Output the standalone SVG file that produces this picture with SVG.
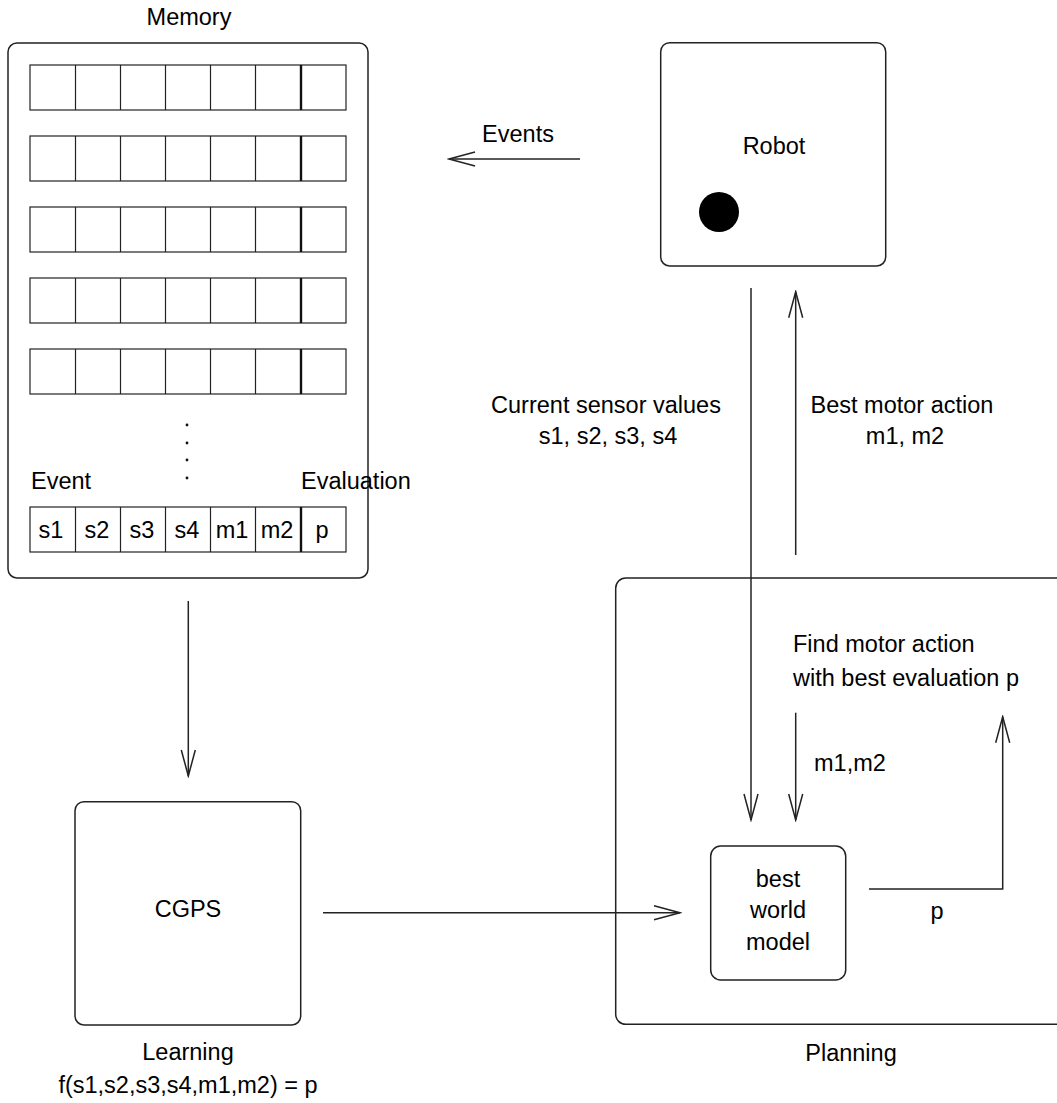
<svg xmlns="http://www.w3.org/2000/svg" width="1057" height="1103" viewBox="0 0 1057 1103">
<style>
  text { font-family: "Liberation Sans", Arial, sans-serif; font-size: 23.5px; fill: #000; }
  .c { text-anchor: middle; }
  .box { fill: none; stroke: #222; stroke-width: 1.5; }
  .cell { fill: none; stroke: #222; stroke-width: 1.2; }
  .div { stroke: #111; stroke-width: 2.4; }
  .conn { fill: none; stroke: #222; stroke-width: 1.5; marker-end: url(#arr); }
</style>
<defs>
  <marker id="arr" markerUnits="userSpaceOnUse" markerWidth="30" markerHeight="20" viewBox="-28 -9 30 18" refX="0" refY="0" orient="auto">
    <path d="M -26 -7 L 0 0 L -26 7" fill="none" stroke="#222" stroke-width="1.5"/>
  </marker>
  <g id="row">
    <rect class="cell" x="30" y="0" width="316" height="45"/>
    <line class="cell" x1="75.5" y1="0" x2="75.5" y2="45"/>
    <line class="cell" x1="120.5" y1="0" x2="120.5" y2="45"/>
    <line class="cell" x1="165.5" y1="0" x2="165.5" y2="45"/>
    <line class="cell" x1="210.5" y1="0" x2="210.5" y2="45"/>
    <line class="cell" x1="255.5" y1="0" x2="255.5" y2="45"/>
    <line class="div" x1="301" y1="0" x2="301" y2="45"/>
  </g>
</defs>

<g id="memory">
  <text class="c" x="189" y="25">Memory</text>
  <rect class="box" x="8" y="43" width="360" height="535" rx="9"/>
  <use href="#row" y="65"/>
  <use href="#row" y="136"/>
  <use href="#row" y="207"/>
  <use href="#row" y="278"/>
  <use href="#row" y="349"/>
  <circle cx="187" cy="425" r="1.4" fill="#111"/>
  <circle cx="187" cy="443" r="1.4" fill="#111"/>
  <circle cx="187" cy="460" r="1.4" fill="#111"/>
  <circle cx="187" cy="478" r="1.4" fill="#111"/>
  <text x="31" y="489">Event</text>
  <text x="301" y="489">Evaluation</text>
  <use href="#row" y="507"/>
  <text class="c" x="51" y="538">s1</text>
  <text class="c" x="97" y="538">s2</text>
  <text class="c" x="142" y="538">s3</text>
  <text class="c" x="187" y="538">s4</text>
  <text class="c" x="232" y="538">m1</text>
  <text class="c" x="277" y="538">m2</text>
  <text class="c" x="322" y="538">p</text>
</g>

<g id="robot">
  <rect class="box" x="660.7" y="42.7" width="225" height="223.3" rx="9"/>
  <text class="c" x="774" y="154">Robot</text>
  <circle cx="719" cy="212" r="20" fill="#000"/>
</g>

<g id="cgps">
  <rect class="box" x="75" y="801.7" width="225.7" height="223.3" rx="9"/>
  <text class="c" x="188" y="917">CGPS</text>
  <text class="c" x="188" y="1060">Learning</text>
  <text class="c" x="188" y="1093">f(s1,s2,s3,s4,m1,m2) = p</text>
</g>

<g id="planning">
  <rect class="box" x="615.7" y="578" width="600" height="446.3" rx="10"/>
  <text x="793" y="652">Find motor action</text>
  <text x="793" y="686">with best evaluation p</text>
  <text class="c" x="851" y="1061">Planning</text>
</g>

<g id="world-model">
  <rect class="box" x="710.7" y="846" width="135" height="134" rx="10"/>
  <text class="c" x="778" y="887">best</text>
  <text class="c" x="778" y="918">world</text>
  <text class="c" x="778" y="950">model</text>
</g>

<g id="connectors">
  <line class="conn" x1="580" y1="159" x2="449" y2="159"/>
  <text class="c" x="518" y="142">Events</text>
  <line class="conn" x1="751" y1="288" x2="751" y2="820"/>
  <text class="c" x="606" y="413">Current sensor values</text>
  <text class="c" x="608" y="444">s1, s2, s3, s4</text>
  <line class="conn" x1="795.7" y1="555" x2="795.7" y2="291.7"/>
  <text class="c" x="902" y="413">Best motor action</text>
  <text class="c" x="905" y="444">m1, m2</text>
  <line class="conn" x1="795.7" y1="712.7" x2="795.7" y2="820"/>
  <text x="814" y="771">m1,m2</text>
  <line class="conn" x1="188.3" y1="601" x2="188.3" y2="776"/>
  <line class="conn" x1="323" y1="912.7" x2="680" y2="912.7"/>
  <polyline class="conn" points="869,889 1002.7,889 1002.7,716.7"/>
  <text class="c" x="937" y="919">p</text>
</g>
</svg>
